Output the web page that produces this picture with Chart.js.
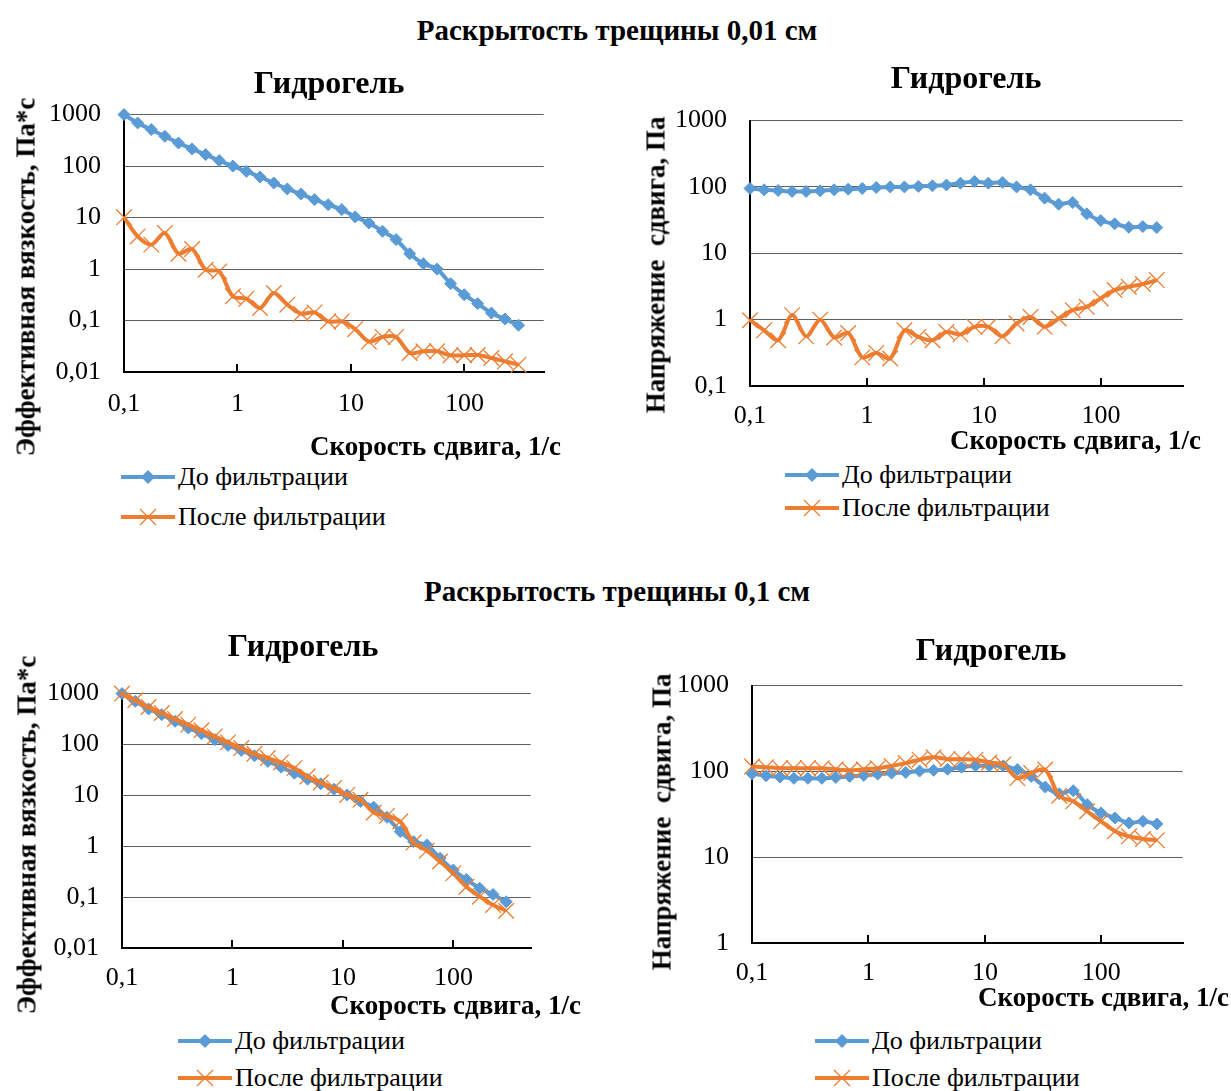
<!DOCTYPE html>
<html>
<head>
<meta charset="utf-8">
<script src="https://cdn.jsdelivr.net/npm/chart.js@4"></script>
<style>
  body { margin: 0; width: 1231px; height: 1091px; background: #fff; position: relative; overflow: hidden;
         font-family: "Liberation Serif", "Times New Roman", serif; color: #000; }
  .t { position: absolute; white-space: pre; line-height: 1; }
  .sec { font-weight: bold; font-size: 29px; transform: translate(-50%, -50%); }
  .ttl { font-weight: bold; font-size: 32px; transform: translate(-50%, -50%); }
  .yt { font-weight: bold; font-size: 27px; transform: translate(-50%, -50%) rotate(-90deg); }
  .xt { font-weight: bold; font-size: 27px; transform: translateY(-50%); }
  .lg { font-size: 26px; display: flex; align-items: center; transform: translateY(-50%); }
  .lg svg { margin-right: 3px; }
  canvas { position: absolute; }
</style>
</head>
<body>
<div id="page"></div>
<script>
// shear rate, 1/s (same for every series)
const shearRate = [0.1, 0.132, 0.174, 0.229, 0.302, 0.398, 0.524, 0.691, 0.911, 1.2,
  1.58, 2.09, 2.75, 3.63, 4.78, 6.3, 8.3, 10.9, 14.4, 19,
  25, 33, 43.5, 57.4, 75.6, 99.6, 131, 173, 228, 300];

// fracture opening 0.01 cm
const viscBefore001 = [1000, 689, 511, 379, 281, 215, 167, 128, 100, 79,
  61.5, 47, 36, 28.8, 22.3, 17.8, 14.3, 10.3, 7.85, 5.41,
  3.73, 1.99, 1.27, 1.0, 0.52, 0.318, 0.213, 0.14, 0.107, 0.081];
const viscAfter001 = [10.1, 4.3, 2.98, 5.0, 1.99, 2.45, 0.97, 0.9, 0.295, 0.266,
  0.175, 0.343, 0.203, 0.136, 0.144, 0.096, 0.096, 0.068, 0.039, 0.048,
  0.048, 0.0234, 0.0252, 0.0252, 0.0211, 0.0211, 0.0214, 0.0187, 0.0161, 0.0139];
const stressBefore001 = [94.9, 90.6, 88.5, 85.5, 85.5, 87.5, 90.6, 92.7, 94.9, 98.2,
  100, 100, 102, 104, 107, 114, 121, 114, 117, 100,
  90.6, 67.8, 55, 58.3, 39.3, 31.2, 27.8, 24.7, 25.3, 24.4];
const stressAfter001 = [0.98, 0.69, 0.49, 1.17, 0.56, 1.0, 0.54, 0.63, 0.27, 0.315,
  0.26, 0.69, 0.55, 0.49, 0.65, 0.6, 0.78, 0.78, 0.56, 0.875,
  1.1, 0.78, 1.04, 1.39, 1.56, 2.09, 2.79, 3.13, 3.44, 3.95];

// fracture opening 0.1 cm
const viscBefore01 = [1000, 706, 499, 386, 285, 211, 163, 124, 96, 76.5,
  60, 46.5, 35.9, 27.3, 20.8, 16.9, 13.2, 10.2, 7.56, 5.85,
  3.72, 1.94, 1.23, 1.06, 0.58, 0.341, 0.223, 0.149, 0.113, 0.081];
const viscAfter01 = [1000, 740, 546, 416, 317, 245, 190, 144, 110, 85,
  65.7, 54, 44.4, 34.3, 23.5, 17.9, 13.9, 10.2, 8.16, 4.6,
  3.95, 3.06, 1.18, 0.82, 0.5, 0.293, 0.16, 0.102, 0.07, 0.054];
const stressBefore01 = [94, 89, 86, 83, 83, 83, 85, 87.5, 89.9, 93,
  95.6, 97.3, 101, 103, 106, 112, 116, 116, 116, 105,
  87.5, 65.8, 55, 59.6, 41, 32.8, 28.7, 25.1, 26.2, 24.4];
const stressAfter01 = [114, 112, 109, 109, 109, 109, 106, 103, 106, 109,
  116, 125, 137, 146, 139, 139, 137, 127, 120, 83.6,
  95.6, 105, 52, 44.8, 34.3, 26.2, 20.1, 17.5, 16.3, 15.8];

// axis ticks
const xTicks = [0.1, 1, 10, 100];
const xTickLabels = ['0,1', '1', '10', '100'];
const xMax = 500;
const viscTicks = [0.01, 0.1, 1, 10, 100, 1000];
const viscTickLabels = ['0,01', '0,1', '1', '10', '100', '1000'];
const stress001Ticks = [0.1, 1, 10, 100, 1000];
const stress001TickLabels = ['0,1', '1', '10', '100', '1000'];
const stress01Ticks = [1, 10, 100, 1000];
const stress01TickLabels = ['1', '10', '100', '1000'];

const seriesNames = ['До фильтрации', 'После фильтрации'];
const sectionTitles = ['Раскрытость трещины 0,01 см', 'Раскрытость трещины 0,1 см'];
const chartTitle = 'Гидрогель';
const xTitle = 'Скорость сдвига, 1/с';
const viscTitle = 'Эффективная вязкость, Па*с';
const stressTitle = 'Напряжение  сдвига, Па';

const BLUE = '#5B9BD5';
const ORANGE = '#ED7D31';
const FONT = '"Liberation Serif", "Times New Roman", serif';

const page = document.getElementById('page');

function addText(cls, text, x, y) {
  const d = document.createElement('div');
  d.className = 't ' + cls;
  d.textContent = text;
  d.style.left = x + 'px';
  d.style.top = y + 'px';
  page.appendChild(d);
  return d;
}

function addLegendRow(name, color, marker, x, y) {
  const d = document.createElement('div');
  d.className = 't lg';
  d.style.left = x + 'px';
  d.style.top = y + 'px';
  let mark = marker === 'diamond'
    ? `<path d="M27 3 L34 10 L27 17 L20 10 Z" fill="${color}"/>`
    : `<path d="M19 2 L35 18 M35 2 L19 18" stroke="${color}" stroke-width="1.3"/>`;
  d.innerHTML = `<svg width="54" height="20"><line x1="0" y1="10" x2="54" y2="10" stroke="${color}" stroke-width="4"/>${mark}</svg><span>${name}</span>`;
  page.appendChild(d);
}

// build one chart; plot = wanted chart area box in page pixels
function makeChart(cfg) {
  const yw = 100, xh = 62;
  const yMin = cfg.yTicks[0], yMax = cfg.yTicks[cfg.yTicks.length - 1];

  const canvas = document.createElement('canvas');
  page.appendChild(canvas);

  const pts = arr => arr.map((v, i) => ({ x: shearRate[i], y: v }));

  const build = (w, h) => {
    canvas.width = w;
    canvas.height = h;
    canvas.style.width = w + 'px';
    canvas.style.height = h + 'px';
    return new Chart(canvas.getContext('2d'), {
      type: 'line',
      data: {
        datasets: [{
          label: seriesNames[0],
          data: pts(cfg.before),
          borderColor: BLUE,
          backgroundColor: BLUE,
          borderWidth: 4,
          pointStyle: 'rectRot',
          pointRadius: 6,
          pointBorderWidth: 1,
          tension: 0.3,
          clip: false,
          order: 2
        }, {
          label: seriesNames[1],
          data: pts(cfg.after),
          borderColor: ORANGE,
          backgroundColor: ORANGE,
          borderWidth: 4,
          pointStyle: 'crossRot',
          pointRadius: 11,
          pointBorderWidth: 1.3,
          tension: 0.3,
          clip: false,
          order: 1
        }]
      },
      options: {
        responsive: false,
        animation: false,
        layout: { padding: { top: 20, right: 8, left: 0, bottom: 0 } },
        plugins: { legend: { display: false }, tooltip: { enabled: false } },
        scales: {
          x: {
            type: 'logarithmic',
            min: xTicks[0],
            max: xMax,
            afterBuildTicks: s => { s.ticks = xTicks.map(v => ({ value: v })); },
            afterFit: s => { s.height = xh; },
            ticks: {
              autoSkip: false, maxRotation: 0, padding: cfg.xPad, color: '#000',
              font: { family: FONT, size: 26 },
              callback: (v, i) => xTickLabels[i]
            },
            grid: { drawOnChartArea: false, drawTicks: true, tickLength: -8, color: '#000', tickColor: '#000', lineWidth: 2 },
            border: { color: '#000', width: 2 }
          },
          y: {
            type: 'logarithmic',
            min: yMin,
            max: yMax,
            afterBuildTicks: s => { s.ticks = cfg.yTicks.map(v => ({ value: v })); },
            afterFit: s => { s.width = yw; },
            ticks: {
              autoSkip: false, padding: 23, color: '#000',
              font: { family: FONT, size: 26 },
              callback: (v, i) => cfg.yLabels[i]
            },
            grid: { color: '#5f5f5f', lineWidth: 1, drawTicks: false },
            border: { color: '#000', width: 2 }
          }
        }
      }
    });
  };

  // where the axes really landed inside the canvas
  const measure = ch => ({
    l: ch.scales.x.getPixelForValue(xTicks[0]),
    r: ch.scales.x.getPixelForValue(xMax),
    t: ch.scales.y.getPixelForValue(yMax),
    b: ch.scales.y.getPixelForValue(yMin)
  });

  const pw = cfg.plot.right - cfg.plot.left;
  const ph = cfg.plot.bottom - cfg.plot.top;
  let w = pw + yw + 8, h = ph + xh + 20;
  let chart = build(w, h);
  for (let k = 0; k < 2; k++) {
    const m = measure(chart);
    w = Math.round(w + pw - (m.r - m.l));
    h = Math.round(h + ph - (m.b - m.t));
    chart.destroy();
    chart = build(w, h);
  }
  const m = measure(chart);
  canvas.style.left = Math.round(cfg.plot.left - m.l) + 'px';
  canvas.style.top = Math.round(cfg.plot.top - m.t) + 'px';

  addText('ttl', chartTitle, cfg.title[0], cfg.title[1]);
  addText('yt', cfg.yTitle, cfg.yTitlePos[0], cfg.yTitlePos[1]);
  addText('xt', xTitle, cfg.xTitlePos[0], cfg.xTitlePos[1]);
  addLegendRow(seriesNames[0], BLUE, 'diamond', cfg.legend[0], cfg.legend[1]);
  addLegendRow(seriesNames[1], ORANGE, 'cross', cfg.legend[0], cfg.legend[1] + cfg.legendGap);
}

addText('sec', sectionTitles[0], 617, 30);
addText('sec', sectionTitles[1], 617, 591);

makeChart({
  plot: { left: 124, right: 544, top: 115, bottom: 372 }, xPad: 25,
  before: viscBefore001, after: viscAfter001,
  yTicks: viscTicks, yLabels: viscTickLabels, yTitle: viscTitle,
  title: [329, 82], yTitlePos: [26, 277], xTitlePos: [310, 446], legend: [121, 477], legendGap: 40
});
makeChart({
  plot: { left: 750, right: 1183, top: 121, bottom: 386 }, xPad: 23,
  before: stressBefore001, after: stressAfter001,
  yTicks: stress001Ticks, yLabels: stress001TickLabels, yTitle: stressTitle,
  title: [966, 77], yTitlePos: [656, 265], xTitlePos: [950, 440], legend: [785, 475], legendGap: 33
});
makeChart({
  plot: { left: 122, right: 531, top: 694, bottom: 948 }, xPad: 23,
  before: viscBefore01, after: viscAfter01,
  yTicks: viscTicks, yLabels: viscTickLabels, yTitle: viscTitle,
  title: [303, 645], yTitlePos: [27, 835], xTitlePos: [330, 1005], legend: [178, 1041], legendGap: 37
});
makeChart({
  plot: { left: 752, right: 1183, top: 686, bottom: 943 }, xPad: 23,
  before: stressBefore01, after: stressAfter01,
  yTicks: stress01Ticks, yLabels: stress01TickLabels, yTitle: stressTitle,
  title: [991, 649], yTitlePos: [662, 822], xTitlePos: [978, 997], legend: [815, 1041], legendGap: 37
});
</script>
</body>
</html>
